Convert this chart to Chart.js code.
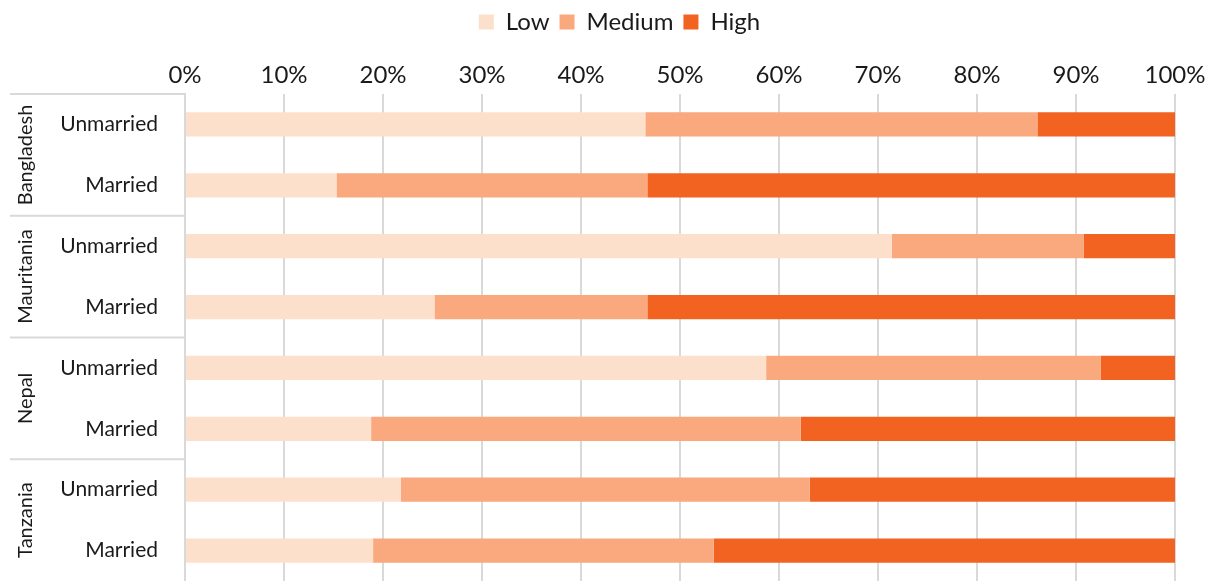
<!DOCTYPE html>
<html lang="en">
<head>
    <meta charset="UTF-8"/>
    <title>Share by level and marital status</title>
    <script src="https://cdn.jsdelivr.net/npm/chart.js"></script>
    <style>
        html, body {
            margin: 0;
            padding: 0;
            background: #fff;
            overflow: hidden;
        }
        canvas { display: block; }
    </style>
</head>
<body>
<canvas id="chart" width="1211" height="581"></canvas>

<script>
    // row labels, top to bottom
    const rowLabels = ['Unmarried', 'Married', 'Unmarried', 'Married', 'Unmarried', 'Married', 'Unmarried', 'Married'];
    const countries = ['Bangladesh', 'Mauritania', 'Nepal', 'Tanzania'];

    // shares (%) per row
    const lowValues    = [46.5, 15.3, 71.4, 25.2, 58.7, 18.8, 21.8, 19.0];
    const mediumValues = [39.6, 31.4, 19.4, 21.5, 33.8, 43.4, 41.3, 34.4];
    const highValues   = [13.9, 53.3,  9.2, 53.3,  7.5, 37.8, 36.9, 46.6];

    const FONT = 'Lato, "Open Sans", sans-serif';
    const TEXT = '#1a1a1a';

    // country labels + separator lines to the left of the row labels
    const groupPlugin = {
        id: 'groups',
        afterLayout(chart) {
            // legend sits a little right of the canvas centre in the original
            if (chart.legend) {
                chart.legend.left += 32;
                chart.legend.right += 32;
            }
        },
        afterDraw(chart) {
            const ctx = chart.ctx;
            const y = chart.scales.y;
            const area = chart.chartArea;
            const step = y.getPixelForValue(1) - y.getPixelForValue(0);
            ctx.save();
            ctx.strokeStyle = '#d9d9d9';
            ctx.lineWidth = 2;
            countries.forEach((name, i) => {
                const top = y.getPixelForValue(i * 2) - step / 2;
                const mid = y.getPixelForValue(i * 2) + step / 2;
                ctx.beginPath();
                ctx.moveTo(10, top);
                ctx.lineTo(area.left, top);
                ctx.stroke();

                ctx.save();
                ctx.translate(26, mid);
                ctx.rotate(-Math.PI / 2);
                ctx.fillStyle = TEXT;
                ctx.font = '20px ' + FONT;
                ctx.textAlign = 'center';
                ctx.textBaseline = 'middle';
                ctx.fillText(name, 0, 0);
                ctx.restore();
            });
            ctx.restore();
        }
    };

    new Chart(document.getElementById('chart'), {
        type: 'bar',
        data: {
            labels: rowLabels,
            datasets: [
                { label: 'Low', data: lowValues, backgroundColor: '#fde0cc' },
                { label: 'Medium', data: mediumValues, backgroundColor: '#f9a97d' },
                { label: 'High', data: highValues, backgroundColor: '#f26322' }
            ]
        },
        options: {
            indexAxis: 'y',
            responsive: false,
            animation: false,
            layout: { padding: { left: 0, right: 36, top: 0, bottom: 0 } },
            datasets: {
                bar: { barPercentage: 0.4, categoryPercentage: 1.0, borderWidth: 0 }
            },
            scales: {
                x: {
                    position: 'top',
                    stacked: true,
                    min: 0,
                    max: 100,
                    border: { display: false },
                    grid: { color: '#d9d9d9', lineWidth: 2, drawTicks: false },
                    ticks: {
                        stepSize: 10,
                        color: TEXT,
                        padding: 4,
                        maxRotation: 0,
                        font: { family: FONT, size: 24 },
                        callback: v => v + '%'
                    },
                    afterFit(scale) { scale.height = 50; }
                },
                y: {
                    stacked: true,
                    border: { display: true, color: '#d9d9d9', width: 2 },
                    grid: { display: false, drawTicks: false },
                    ticks: {
                        color: TEXT,
                        padding: 27,
                        font: { family: FONT, size: 21 }
                    },
                    afterFit(scale) {
                        scale.width = 185;
                        // tick padding would otherwise eat space below the last row
                        scale.paddingTop = 0;
                        scale.paddingBottom = 0;
                    }
                }
            },
            plugins: {
                legend: {
                    position: 'top',
                    labels: {
                        color: TEXT,
                        boxWidth: 15,
                        boxHeight: 15,
                        padding: 10,
                        font: { family: FONT, size: 24 }
                    }
                },
                tooltip: { enabled: true }
            }
        },
        plugins: [groupPlugin]
    });
</script>
</body>
</html>
